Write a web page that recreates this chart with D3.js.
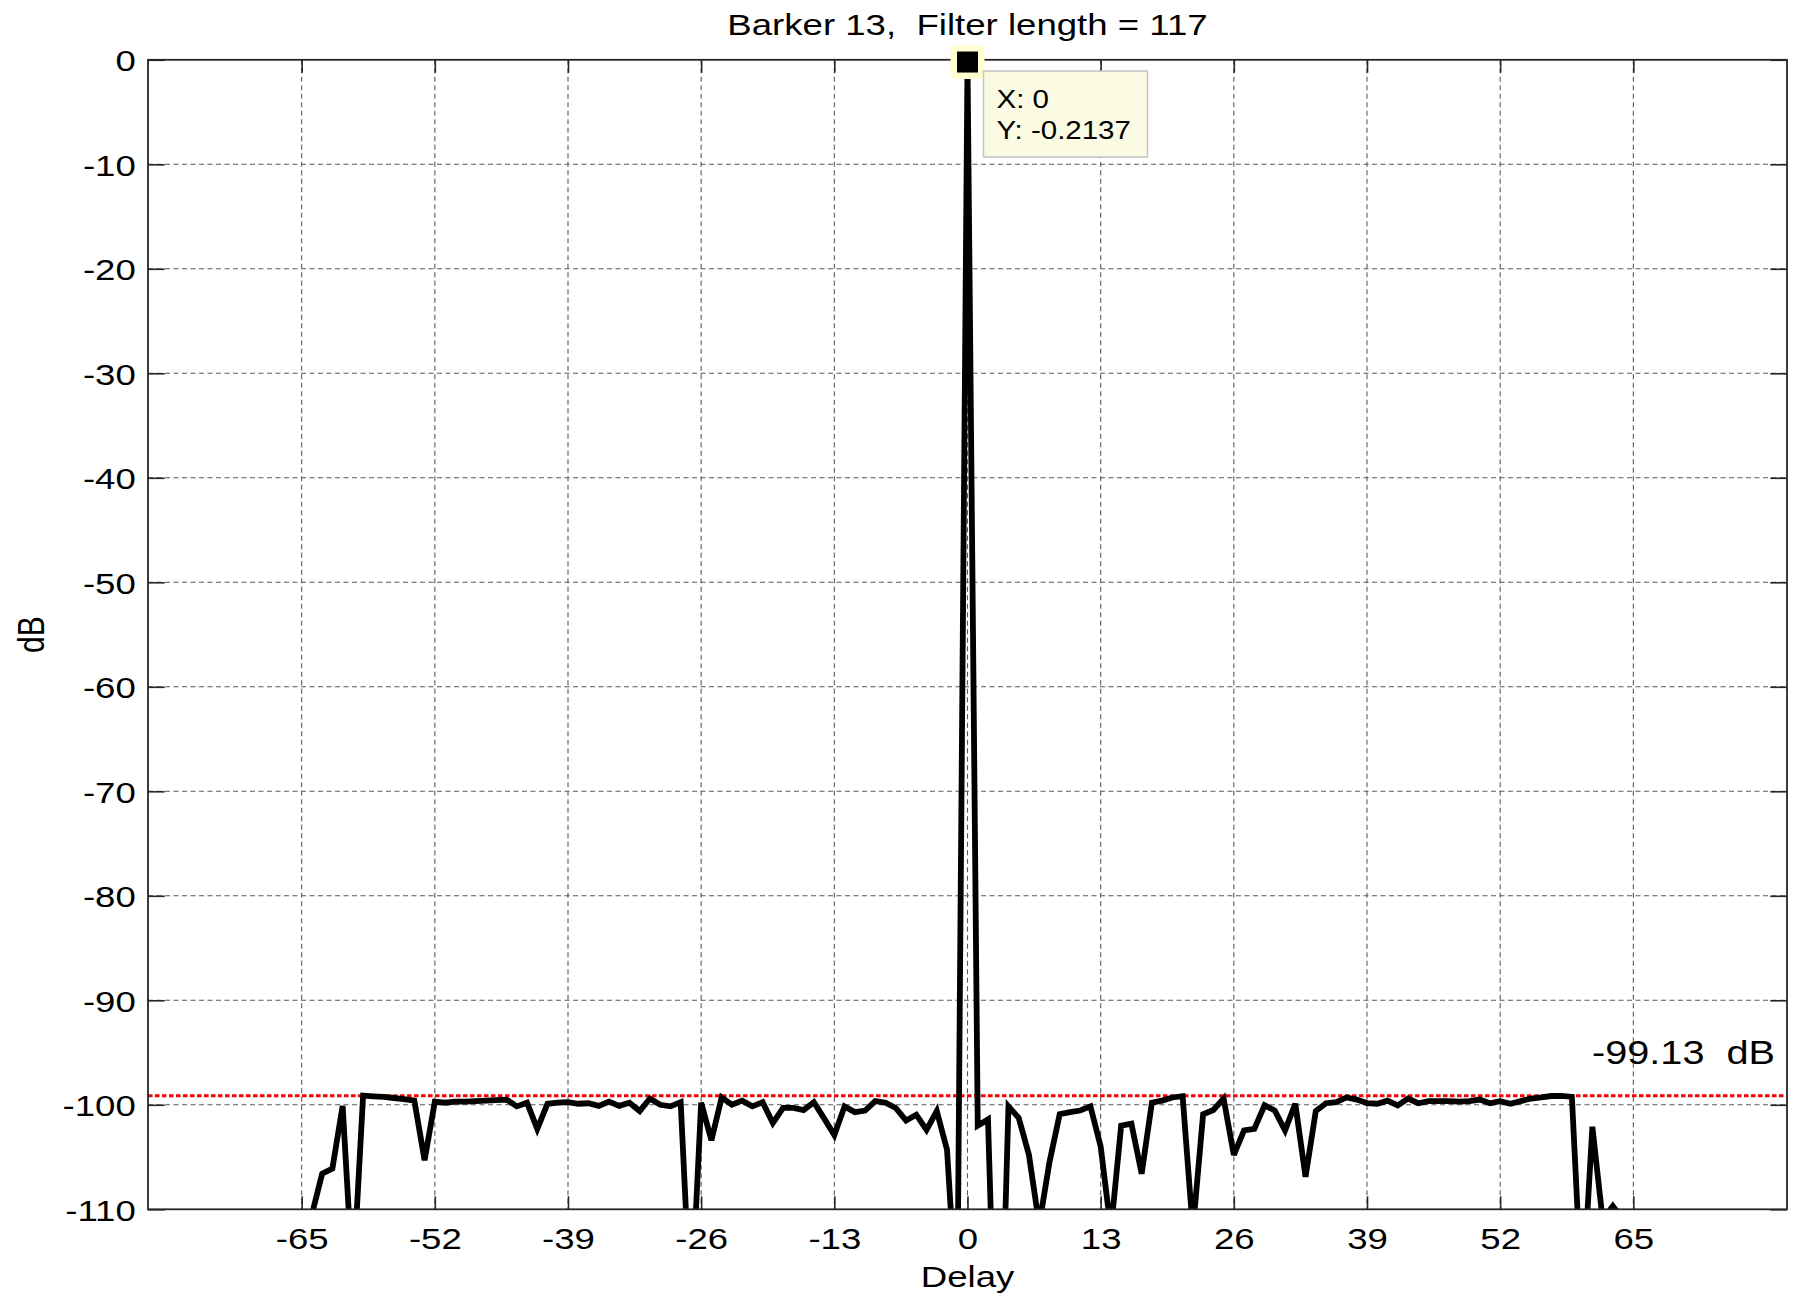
<!DOCTYPE html>
<html>
<head>
<meta charset="utf-8">
<title>Barker 13 mismatched filter output</title>
<script src="https://cdn.jsdelivr.net/npm/d3@7"></script>
<style>
  html, body { margin: 0; padding: 0; background: #fff; }
  svg { display: block; font-family: "Liberation Sans", Arial, sans-serif; }
  svg text { white-space: pre; }
</style>
</head>
<body>
<script>
// Delay axis (samples) of the filter output
const delays = [
  -64, -63, -62, -61, -60, -59, -58, -57, -56, -55, -54, -53, -52, -51, -50, -49,
  -48, -47, -46, -45, -44, -43, -42, -41, -40, -39, -38, -37, -36, -35, -34, -33,
  -32, -31, -30, -29, -28, -27, -26, -25, -24, -23, -22, -21, -20, -19, -18, -17,
  -16, -15, -14, -13, -12, -11, -10, -9, -8, -7, -6, -5, -4, -3, -2, -1,
  0,
  1, 2, 3, 4, 5, 6, 7, 8, 9, 10, 11, 12, 13, 14, 15, 16,
  17, 18, 19, 20, 21, 22, 23, 24, 25, 26, 27, 28, 29, 30, 31, 32,
  33, 34, 35, 36, 37, 38, 39, 40, 41, 42, 43, 44, 45, 46, 47, 48,
  49, 50, 51, 52, 53, 54, 55, 56, 57, 58, 59, 60, 61, 62, 63, 64
];

// Normalised output level (dB) at each delay
const levels = [
  -110.5, -106.6, -106.1, -100.1, -117.0, -99.13, -99.2, -99.25, -99.35, -99.45, -99.6, -105.3, -99.7, -99.8, -99.7, -99.7,
  -99.65, -99.6, -99.55, -99.5, -100.15, -99.8, -102.3, -99.9, -99.8, -99.75, -99.9, -99.85, -100.1, -99.7, -100.1, -99.8,
  -100.6, -99.4, -100.0, -100.15, -99.75, -120.0, -99.8, -103.4, -99.3, -100.0, -99.6, -100.15, -99.75, -101.75, -100.3, -100.3,
  -100.5, -99.75, -101.3, -102.9, -100.15, -100.7, -100.55, -99.65, -99.8, -100.3, -101.5, -100.95, -102.4, -100.6, -104.3, -120.0,
  -0.2137,
  -102.0, -101.4, -134.0, -100.15, -101.25, -104.8, -111.5, -105.5, -100.9, -100.7, -100.55, -100.15, -104.0, -112.0, -102.0, -101.8,
  -106.6, -99.8, -99.6, -99.3, -99.18, -112.0, -100.9, -100.5, -99.4, -104.8, -102.45, -102.3, -100.05, -100.55, -102.45, -99.9,
  -106.9, -100.6, -99.85, -99.75, -99.3, -99.5, -99.85, -99.9, -99.6, -100.05, -99.4, -99.85, -99.65, -99.65, -99.65, -99.7,
  -99.65, -99.5, -99.85, -99.65, -99.9, -99.65, -99.4, -99.3, -99.16, -99.15, -99.25, -119.0, -102.1, -111.0, -109.7, -111.0
];

const xTicks = [-65, -52, -39, -26, -13, 0, 13, 26, 39, 52, 65];
const yTicks = [0, -10, -20, -30, -40, -50, -60, -70, -80, -90, -100, -110];

const peakSidelobe = -99.13;      // highest sidelobe level (dB)
const cursorDelay = 0;            // data-cursor position
const cursorLevel = -0.2137;

const titleText = "Barker 13,  Filter length = 117";
const xLabel = "Delay";
const yLabel = "dB";

// ---- layout -------------------------------------------------------------
const W = 1801, H = 1298;
const plot = { left: 148, right: 1787, top: 59.8, bottom: 1209.3 };
const SX = 1.22;          // horizontal text stretch
const FONT = 30;

const x = d3.scaleLinear().domain([-80, 80]).range([plot.left, plot.right]);
const y = d3.scaleLinear().domain([-110, 0]).range([plot.bottom, plot.top]);
const plainNumber = d => String(d);   // ASCII hyphen for negatives

const svg = d3.select("body").append("svg")
  .attr("width", W).attr("height", H)
  .attr("viewBox", `0 0 ${W} ${H}`);

svg.append("rect").attr("width", W).attr("height", H).attr("fill", "#fff");

svg.append("defs").append("clipPath").attr("id", "plot-clip")
  .append("rect")
  .attr("x", plot.left).attr("y", plot.top)
  .attr("width", plot.right - plot.left).attr("height", plot.bottom - plot.top);

// ---- grid ---------------------------------------------------------------
const grid = svg.append("g").attr("stroke", "#5a5a5a").attr("stroke-width", 1.1)
  .attr("stroke-dasharray", "5,3.5");
grid.selectAll("line.vx").data(xTicks).join("line")
  .attr("x1", d => x(d)).attr("x2", d => x(d))
  .attr("y1", plot.top).attr("y2", plot.bottom);
grid.selectAll("line.hy").data(yTicks.filter(v => v > -110 && v < 0)).join("line")
  .attr("x1", plot.left).attr("x2", plot.right)
  .attr("y1", d => y(d)).attr("y2", d => y(d));

// ---- peak sidelobe reference line --------------------------------------
svg.append("line")
  .attr("x1", plot.left).attr("x2", plot.right)
  .attr("y1", y(peakSidelobe)).attr("y2", y(peakSidelobe))
  .attr("stroke", "#ff0000").attr("stroke-width", 3)
  .attr("stroke-dasharray", "4.5,2.5");

// ---- filter output trace -----------------------------------------------
const series = delays.map((d, i) => ({ delay: d, db: levels[i] }));
const line = d3.line().x(d => x(d.delay)).y(d => y(d.db));
svg.append("path")
  .datum(series)
  .attr("clip-path", "url(#plot-clip)")
  .attr("fill", "none")
  .attr("stroke", "#000")
  .attr("stroke-width", 5.8)
  .attr("stroke-linejoin", "miter")
  .attr("stroke-miterlimit", 3)
  .attr("d", line);

// ---- axes (ticks point inward, box on) ---------------------------------
function styleAxis(g) {
  g.attr("font-family", null).attr("font-size", null);
  g.select(".domain").remove();
  g.selectAll(".tick line").attr("stroke", "#262626").attr("stroke-width", 1.6);
  g.selectAll(".tick text").attr("fill", "#000").style("font-size", FONT + "px");
}

const xAxisBottom = svg.append("g")
  .attr("transform", `translate(0,${plot.bottom})`)
  .call(d3.axisBottom(x).tickValues(xTicks).tickFormat(plainNumber)
    .tickSizeInner(-13).tickSizeOuter(0).tickPadding(18.5))
  .call(styleAxis);
xAxisBottom.selectAll(".tick text").attr("transform", `scale(${SX},1)`);

svg.append("g")
  .attr("transform", `translate(0,${plot.top})`)
  .call(d3.axisTop(x).tickValues(xTicks).tickSizeInner(-13).tickSizeOuter(0).tickFormat(""))
  .call(styleAxis);

const yAxisLeft = svg.append("g")
  .attr("transform", `translate(${plot.left},0)`)
  .call(d3.axisLeft(y).tickValues(yTicks).tickFormat(plainNumber)
    .tickSizeInner(-16.7).tickSizeOuter(0).tickPadding(10))
  .call(styleAxis);
yAxisLeft.selectAll(".tick text").attr("transform", `scale(${SX},1)`).attr("dy", "0.36em");

svg.append("g")
  .attr("transform", `translate(${plot.right},0)`)
  .call(d3.axisRight(y).tickValues(yTicks).tickSizeInner(-16.7).tickSizeOuter(0).tickFormat(""))
  .call(styleAxis);

svg.append("rect")
  .attr("x", plot.left).attr("y", plot.top)
  .attr("width", plot.right - plot.left).attr("height", plot.bottom - plot.top)
  .attr("fill", "none").attr("stroke", "#262626").attr("stroke-width", 1.8);

// ---- titles -------------------------------------------------------------
function stretchedText(str, px, py, size, anchor, rot) {
  return svg.append("text")
    .attr("transform", `translate(${px},${py}) scale(${SX},1)` + (rot ? ` rotate(${rot})` : ""))
    .attr("text-anchor", anchor)
    .attr("xml:space", "preserve")
    .style("font-size", size + "px")
    .attr("fill", "#000")
    .text(str);
}

stretchedText(titleText, (plot.left + plot.right) / 2, 34.5, FONT, "middle");
stretchedText(xLabel, (plot.left + plot.right) / 2, 1287, FONT, "middle");
stretchedText(yLabel, 44, (plot.top + plot.bottom) / 2, FONT, "middle", -90);

// Peak sidelobe annotation
stretchedText(`${peakSidelobe.toFixed(2)}  dB`, 1775, 1064, 32.5, "end");

// ---- data cursor --------------------------------------------------------
const cx = x(cursorDelay), cy = y(cursorLevel);
svg.append("rect")
  .attr("x", cx - 17).attr("y", cy - 17).attr("width", 34).attr("height", 34)
  .attr("rx", 5).attr("fill", "#ffffd2");
svg.append("rect")
  .attr("x", cx - 10.5).attr("y", cy - 10.5).attr("width", 21).attr("height", 21)
  .attr("fill", "#000");

const tipX = cx + 16, tipY = cy + 9;
svg.append("rect")
  .attr("x", tipX).attr("y", tipY).attr("width", 164).attr("height", 86)
  .attr("fill", "#fbfbe4").attr("stroke", "#c4c4c4").attr("stroke-width", 1.5);

function tipText(str, ty) {
  return svg.append("text")
    .attr("transform", `translate(${tipX + 13},${ty}) scale(1.18,1)`)
    .style("font-size", "25px").attr("fill", "#000").text(str);
}
tipText(`X: ${cursorDelay}`, tipY + 37);
tipText(`Y: ${cursorLevel}`, tipY + 68);
</script>
</body>
</html>
